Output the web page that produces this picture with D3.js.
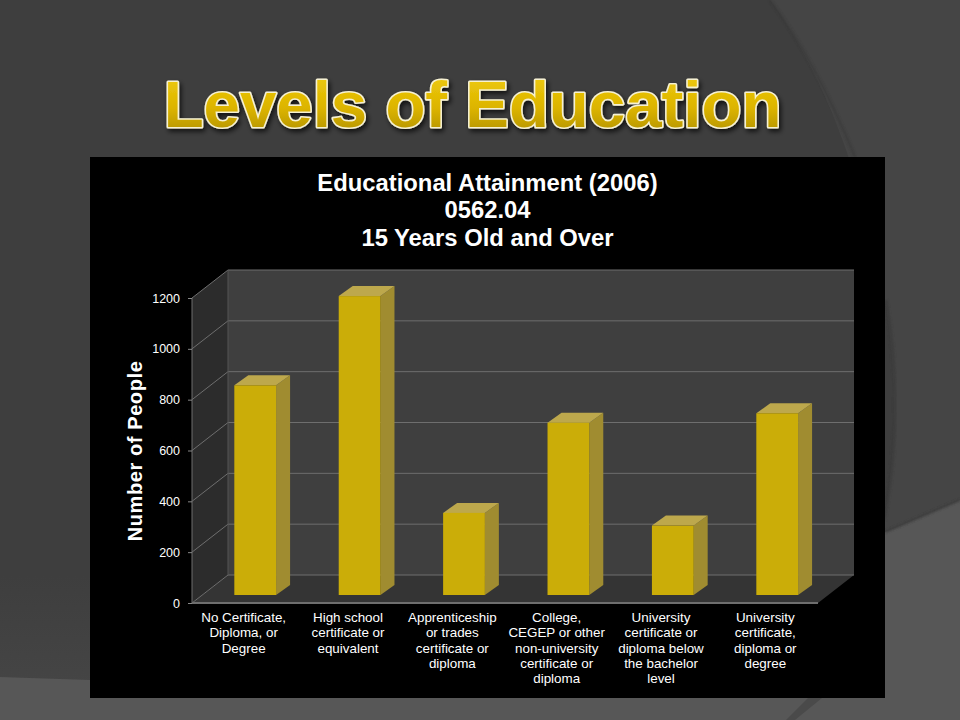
<!DOCTYPE html>
<html><head><meta charset="utf-8">
<script src="https://cdn.jsdelivr.net/npm/d3@7"></script>
<style>html,body{margin:0;padding:0;background:#3e3e3e}svg{display:block}text{font-family:"Liberation Sans",Arial,sans-serif}</style>
</head><body><script>
const slideTitle = "Levels of Education";
const chartTitle = ["Educational Attainment (2006)", "0562.04", "15 Years Old and Over"];
const yAxisTitle = "Number of People";
const categories = ["No Certificate, Diploma, or Degree","High school certificate or equivalent","Apprenticeship or trades certificate or diploma","College, CEGEP or other non-university certificate or diploma","University certificate or diploma below the bachelor level","University certificate, diploma or degree"];
const categoryLines = [
 ["No Certificate,","Diploma, or","Degree"],
 ["High school","certificate or","equivalent"],
 ["Apprenticeship","or trades","certificate or","diploma"],
 ["College,","CEGEP or other","non-university","certificate or","diploma"],
 ["University","certificate or","diploma below","the bachelor","level"],
 ["University","certificate,","diploma or","degree"]];
const values = [825, 1176, 323, 678, 273, 715];
const yTicks = [0,200,400,600,800,1000,1200];

const svg = d3.select("body").append("svg").attr("width",960).attr("height",720);
const defs = svg.append("defs");
const g1 = defs.append("linearGradient").attr("id","gold").attr("x1",0).attr("y1",0).attr("x2",0).attr("y2",1);
g1.append("stop").attr("offset","0").attr("stop-color","#f2cf10");
g1.append("stop").attr("offset","0.55").attr("stop-color","#dcb400");
g1.append("stop").attr("offset","1").attr("stop-color","#a88a00");
const g2 = defs.append("linearGradient").attr("id","leftBg").attr("x1",0).attr("y1",0).attr("x2",0).attr("y2",1);
g2.append("stop").attr("offset","0.8").attr("stop-color","#3e3e3e");
g2.append("stop").attr("offset","1").attr("stop-color","#474747");
const fl = defs.append("filter").attr("id","shadow").attr("x","-5%").attr("y","-20%").attr("width","110%").attr("height","150%");
fl.append("feDropShadow").attr("dx",2).attr("dy",3).attr("stdDeviation",2.5).attr("flood-color","#000").attr("flood-opacity",0.7);
const fb = defs.append("filter").attr("id","soft").attr("x","-10%").attr("y","-10%").attr("width","120%").attr("height","120%");
fb.append("feGaussianBlur").attr("stdDeviation",1.2);

// slide background
const bg = svg.append("g");
bg.append("rect").attr("width",960).attr("height",720).attr("fill","url(#leftBg)");
bg.append("path").attr("d","M770 0 Q850 110 885 300 Q905 420 880 540 L960 510 L960 0 Z").attr("fill","#454545");
bg.append("path").attr("d","M770 0 Q815 60 855 157").attr("fill","none").attr("stroke","#363636").attr("stroke-width",2.5).attr("filter","url(#soft)").attr("opacity",.5);
bg.append("path").attr("d","M886 300 Q905 410 884 520").attr("fill","none").attr("stroke","#383838").attr("stroke-width",3).attr("filter","url(#soft)").attr("opacity",.6);
bg.append("path").attr("d","M0 677 L90 680 L885 532 L960 500 L960 720 L0 720 Z").attr("fill","#575757");
bg.append("path").attr("d","M885 532 L960 500").attr("stroke","#3c3c3c").attr("stroke-width",2).attr("filter","url(#soft)");
bg.append("path").attr("d","M786 720 L808 698 L822 698 L795 720 Z").attr("fill","#4a4a4a");

// title
svg.append("text").attr("x",472.5).attr("y",127).attr("text-anchor","middle")
  .attr("font-size",65.4).attr("font-weight",700)
  .attr("fill","url(#gold)").attr("stroke","#f6f1d2").attr("stroke-width",3.2).attr("paint-order","stroke")
  .attr("stroke-linejoin","round").attr("filter","url(#shadow)").text(slideTitle);

// panel
svg.append("rect").attr("x",90).attr("y",157).attr("width",795).attr("height",541).attr("fill","#000");

svg.append("text").attr("text-anchor","middle").attr("font-weight",700).attr("font-size",23.8).attr("fill","#fff")
  .selectAll("tspan").data(chartTitle).join("tspan").attr("x",487.5).attr("y",(d,i)=>191+i*27.3).text(d=>d);

// scales
const y = d3.scaleLinear().domain([0,1200]).range([603,298]);
const xLabel = d3.scaleBand().domain(categories).range([192,818]);
const xBar = d3.scaleBand().domain(categories).range([203,829.4]).paddingInner(0.6).paddingOuter(0.3);
const depthX = 36, depthY = 28, barDX = 14, barDY = 10, barInset = 8;
const [xL,xR] = xLabel.range();
const y0 = y(0), yTop = y(1200);

// walls
const line = d3.line();
const plot = svg.append("g");
plot.append("path").attr("d",line([[xL,y0],[xL+depthX,y0-depthY],[xL+depthX,yTop-depthY],[xL,yTop]])+"Z").attr("fill","#2c2c2c");
plot.append("path").attr("d",line([[xL+depthX,y0-depthY],[xR+depthX,y0-depthY],[xR+depthX,yTop-depthY],[xL+depthX,yTop-depthY]])+"Z").attr("fill","#3f3f3f");
plot.append("path").attr("d",line([[xL,y0],[xR,y0],[xR+depthX,y0-depthY],[xL+depthX,y0-depthY]])+"Z").attr("fill","#343434");
// gridlines
plot.selectAll("path.grid").data(yTicks).join("path").attr("class","grid")
  .attr("d",d=>line([[xL,y(d)],[xL+depthX,y(d)-depthY],[xR+depthX,y(d)-depthY]]))
  .attr("fill","none").attr("stroke","#6e6e6e").attr("stroke-width",1);
plot.append("path").attr("d",line([[xL+depthX,y0-depthY],[xL+depthX,yTop-depthY]])).attr("stroke","#555").attr("fill","none");
// axis lines
plot.append("path").attr("d",line([[xL,y0],[xL,yTop]])).attr("stroke","#6e6e6e").attr("fill","none");
plot.append("path").attr("d",line([[xL,y0],[xR,y0]])).attr("stroke","#6e6e6e").attr("stroke-width",2).attr("fill","none");

// y axis through d3
const yAxis = svg.append("g").attr("transform",`translate(${xL},0)`)
  .call(d3.axisLeft(y).tickValues(yTicks).tickSize(4).tickPadding(8).tickFormat(d3.format("d")));
yAxis.select(".domain").remove();
yAxis.selectAll("line").attr("stroke","#888");
yAxis.selectAll("text").attr("fill","#fff").attr("font-size",12.5).attr("font-family",'"Liberation Sans",Arial,sans-serif');

// bars
const base = y0 - barInset;
const h = v => y0 - y(v);
const bars = svg.append("g").selectAll("g").data(categories.map((c,i)=>({c,v:values[i]}))).join("g");
const bw = xBar.bandwidth();
bars.append("path").attr("d",d=>{const x=xBar(d.c)+bw,t=base-h(d.v);return line([[x,base],[x+barDX,base-barDY],[x+barDX,t-barDY],[x,t]])+"Z";}).attr("fill","#a08c30");
bars.append("path").attr("d",d=>{const x=xBar(d.c),t=base-h(d.v);return line([[x,t],[x+bw,t],[x+bw+barDX,t-barDY],[x+barDX,t-barDY]])+"Z";}).attr("fill","#bda84c");
bars.append("rect").attr("x",d=>xBar(d.c)).attr("y",d=>base-h(d.v)).attr("width",bw).attr("height",d=>h(d.v)).attr("fill","#cbad08");

// category labels
const labs = svg.append("g").attr("font-size",13.4).attr("fill","#fff").attr("text-anchor","middle");
labs.selectAll("text").data(categories).join("text")
  .each(function(c,i){
    d3.select(this).selectAll("tspan").data(categoryLines[i]).join("tspan")
      .attr("x",xLabel(c)+xLabel.bandwidth()/2-0.5).attr("y",(d,j)=>622+j*15.3).text(d=>d);
  });

// y title
svg.append("text").attr("transform","translate(142,451) rotate(-90)").attr("text-anchor","middle")
  .attr("font-size",20).attr("font-weight",700).attr("letter-spacing",0.6).attr("fill","#fff").text(yAxisTitle);
</script></body></html>
